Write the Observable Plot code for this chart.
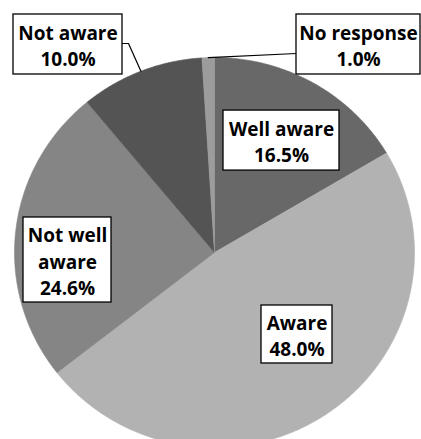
<!DOCTYPE html>
<html>
<head>
<meta charset="utf-8">
<script src="https://cdn.jsdelivr.net/npm/d3@7"></script>
<script src="https://cdn.jsdelivr.net/npm/@observablehq/plot@0.6"></script>
<style>
  html, body { margin: 0; padding: 0; background: #fff; overflow: hidden; }
</style>
</head>
<body>
<div id="chart"></div>
<script>
// Data (clockwise from 12 o'clock)
const categories = ["Well aware", "Aware", "Not well aware", "Not aware", "No response"];
const percents = [16.5, 48.0, 24.6, 10.0, 1.0];
const labelTexts = ["Well aware\n16.5%", "Aware\n48.0%", "Not well\naware\n24.6%", "Not aware\n10.0%", "No response\n1.0%"];

// Styles
const sliceColors = ["#686868", "#b2b2b2", "#858585", "#545454", "#9c9c9c"];

// Label layout (data units: unit circle, y up): centre, width, height
const labelLayout = [
  {cx: 0.335, cy: 0.574, w: 0.58, h: 0.3077},
  {cx: 0.4125, cy: -0.4205, w: 0.355, h: 0.2974},
  {cx: -0.735, cy: -0.0385, w: 0.44, h: 0.436},
  {cx: -0.7325, cy: 1.0667, w: 0.545, h: 0.3077},
  {cx: 0.72, cy: 1.0667, w: 0.62, h: 0.3077}
];
// Leader lines: start points on the label box (plus optional elbow), end on slice edge
const leaderLayout = {
  "Not aware": [[-0.46, 1.0718], [-0.43, 1.0718]],
  "No response": [[0.41, 1.0205]]
};

const total = d3.sum(percents);
let acc = 0;
const slices = categories.map((c, i) => {
  const a0 = acc / total * 2 * Math.PI;
  acc += percents[i];
  const a1 = acc / total * 2 * Math.PI;
  return {label: c, a0, a1, color: sliceColors[i]};
});

// Polygon points for each slice
const piePts = [];
for (const s of slices) {
  piePts.push({label: s.label, color: s.color, x: 0, y: 0});
  const n = Math.max(2, Math.ceil((s.a1 - s.a0) / (Math.PI / 360)));
  for (let k = 0; k <= n; k++) {
    const a = s.a0 + (s.a1 - s.a0) * k / n;
    piePts.push({label: s.label, color: s.color, x: Math.sin(a), y: Math.cos(a)});
  }
  piePts.push({label: s.label, color: s.color, x: 0, y: 0});
}

const boxes = categories.map((c, i) => ({
  label: c, text: labelTexts[i],
  x: labelLayout[i].cx, y: labelLayout[i].cy,
  x1: labelLayout[i].cx - labelLayout[i].w / 2, x2: labelLayout[i].cx + labelLayout[i].w / 2,
  y1: labelLayout[i].cy - labelLayout[i].h / 2, y2: labelLayout[i].cy + labelLayout[i].h / 2
}));

const leaderPts = [];
for (const s of slices) {
  const pts = leaderLayout[s.label];
  if (!pts) continue;
  for (const p of pts) leaderPts.push({label: s.label, x: p[0], y: p[1]});
  const m = (s.a0 + s.a1) / 2;
  leaderPts.push({label: s.label, x: Math.sin(m), y: Math.cos(m)});
}

const chart = Plot.plot({
  width: 421,
  height: 439,
  margin: 0,
  style: {fontFamily: "'Open Sans', sans-serif", background: "#fff"},
  x: {domain: [-1, 1], range: [14, 414], axis: null},
  y: {domain: [-1, 1], range: [447, 57], axis: null},
  color: {type: "identity"},
  marks: [
    Plot.line(piePts, {x: "x", y: "y", z: "label", fill: "color", stroke: "color", strokeWidth: 0.6, curve: "linear"}),
    Plot.line(leaderPts, {x: "x", y: "y", z: "label", stroke: "#000", strokeWidth: 1.2}),
    Plot.rect(boxes, {x1: "x1", x2: "x2", y1: "y1", y2: "y2", fill: "#fff", stroke: "#000", strokeWidth: 1.3}),
    Plot.text(boxes, {x: "x", y: "y", text: "text", fontSize: 19, fontWeight: "bold", fill: "#000", lineHeight: 1.4, textAnchor: "middle"})
  ]
});
document.getElementById("chart").appendChild(chart);
</script>
</body>
</html>
